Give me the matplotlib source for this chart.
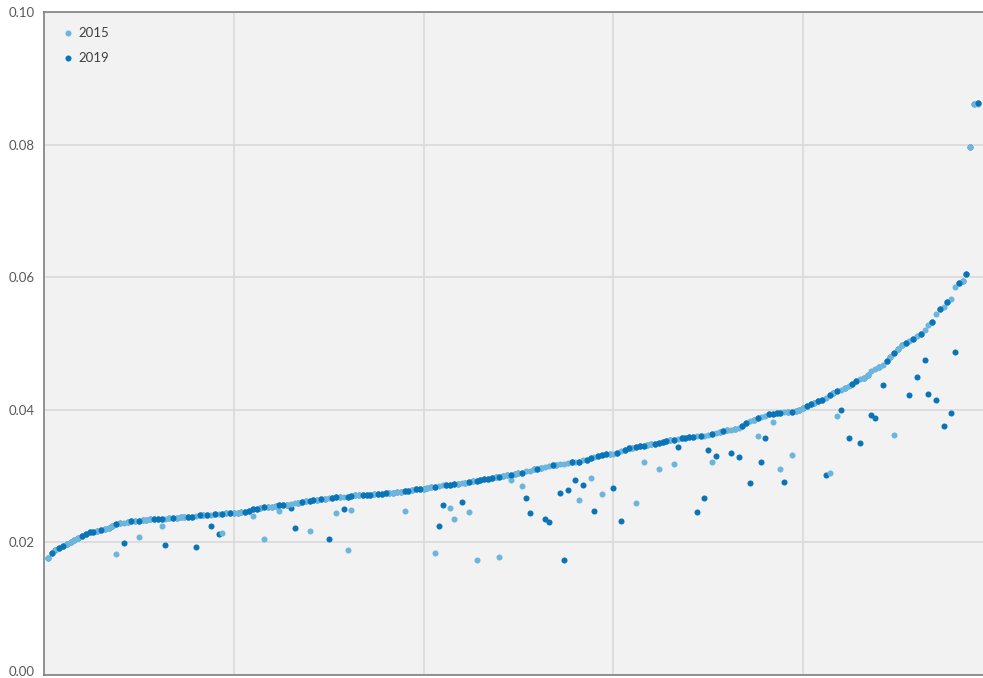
import numpy as np
import matplotlib
matplotlib.use("Agg")
import matplotlib.pyplot as plt
from matplotlib.transforms import ScaledTranslation

# value on the upper sorted curve, one per rank (1..243)
curve = [
    0.0176, 0.0184, 0.0188, 0.0191, 0.0194, 0.0197, 0.0200, 0.0204, 0.0207, 0.0210,
    0.0213, 0.0215, 0.0216, 0.0217, 0.0218, 0.0220, 0.0222, 0.0224, 0.0227, 0.0229,
    0.0230, 0.0231, 0.0232, 0.0232, 0.0233, 0.0234, 0.0234, 0.0235, 0.0235, 0.0235,
    0.0236, 0.0236, 0.0237, 0.0237, 0.0237, 0.0238, 0.0238, 0.0239, 0.0239, 0.0240,
    0.0241, 0.0241, 0.0242, 0.0242, 0.0243, 0.0243, 0.0243, 0.0244, 0.0244, 0.0245,
    0.0245, 0.0246, 0.0246, 0.0248, 0.0250, 0.0251, 0.0252, 0.0253, 0.0254, 0.0254,
    0.0255, 0.0256, 0.0256, 0.0257, 0.0258, 0.0259, 0.0260, 0.0261, 0.0262, 0.0263,
    0.0264, 0.0264, 0.0265, 0.0266, 0.0267, 0.0267, 0.0268, 0.0268, 0.0269, 0.0269,
    0.0270, 0.0271, 0.0271, 0.0272, 0.0272, 0.0272, 0.0273, 0.0273, 0.0273, 0.0274,
    0.0274, 0.0275, 0.0276, 0.0276, 0.0277, 0.0278, 0.0279, 0.0280, 0.0281, 0.0281,
    0.0282, 0.0283, 0.0284, 0.0285, 0.0286, 0.0287, 0.0287, 0.0288, 0.0288, 0.0289,
    0.0290, 0.0291, 0.0292, 0.0293, 0.0294, 0.0295, 0.0296, 0.0297, 0.0298, 0.0299,
    0.0300, 0.0301, 0.0302, 0.0303, 0.0304, 0.0305, 0.0307, 0.0308, 0.0310, 0.0311,
    0.0312, 0.0314, 0.0315, 0.0317, 0.0317, 0.0318, 0.0319, 0.0320, 0.0321, 0.0321,
    0.0322, 0.0324, 0.0325, 0.0327, 0.0329, 0.0331, 0.0332, 0.0333, 0.0334, 0.0334,
    0.0335, 0.0338, 0.0340, 0.0342, 0.0343, 0.0344, 0.0345, 0.0346, 0.0347, 0.0348,
    0.0349, 0.0350, 0.0352, 0.0353, 0.0354, 0.0355, 0.0356, 0.0357, 0.0358, 0.0359,
    0.0359, 0.0360, 0.0360, 0.0361, 0.0362, 0.0364, 0.0365, 0.0366, 0.0368, 0.0369,
    0.0370, 0.0371, 0.0373, 0.0376, 0.0380, 0.0383, 0.0385, 0.0387, 0.0389, 0.0391,
    0.0393, 0.0394, 0.0395, 0.0395, 0.0396, 0.0397, 0.0397, 0.0398, 0.0399, 0.0403,
    0.0406, 0.0409, 0.0411, 0.0413, 0.0415, 0.0418, 0.0422, 0.0425, 0.0428, 0.0430,
    0.0433, 0.0436, 0.0439, 0.0443, 0.0446, 0.0448, 0.0452, 0.0459, 0.0461, 0.0464,
    0.0468, 0.0474, 0.0479, 0.0485, 0.0491, 0.0497, 0.0501, 0.0504, 0.0507, 0.0511,
    0.0514, 0.0520, 0.0528, 0.0533, 0.0545, 0.0552, 0.0555, 0.0563, 0.0567, 0.0585,
    0.0591, 0.0594, 0.0605,
]

# last three ranks
tail_2015 = [0.0796, 0.0861, 0.0861]
tail_2019 = [0.0796, 0.0861, 0.0862]

# points that sit below the curve (rank: value)
dips_2015 = {
    19: 0.0182, 25: 0.0208, 31: 0.0225, 47: 0.0214, 55: 0.0240, 58: 0.0205,
    62: 0.0247, 70: 0.0217, 77: 0.0244, 80: 0.0189, 81: 0.0249, 95: 0.0247,
    103: 0.0184, 107: 0.0252, 108: 0.0235, 112: 0.0246, 114: 0.0174, 120: 0.0178,
    123: 0.0294, 126: 0.0285, 141: 0.0264, 144: 0.0297, 147: 0.0273, 156: 0.0259,
    158: 0.0321, 162: 0.0311, 166: 0.0318, 176: 0.0321, 188: 0.0360, 192: 0.0382,
    194: 0.0311, 197: 0.0332, 207: 0.0305, 209: 0.0391, 224: 0.0362,
}
dips_2019 = {
    21: 0.0199, 32: 0.0196, 40: 0.0193, 44: 0.0225, 46: 0.0213, 65: 0.0252,
    66: 0.0222, 75: 0.0205, 79: 0.0250, 104: 0.0225, 105: 0.0256, 110: 0.0261,
    127: 0.0267, 128: 0.0244, 132: 0.0236, 133: 0.0231, 136: 0.0275, 137: 0.0173,
    138: 0.0279, 140: 0.0294, 142: 0.0287, 145: 0.0247, 150: 0.0282, 152: 0.0232,
    167: 0.0344, 172: 0.0246, 174: 0.0267, 175: 0.0339, 177: 0.0330, 181: 0.0335,
    183: 0.0329, 186: 0.0290, 189: 0.0321, 190: 0.0357, 195: 0.0291, 206: 0.0302,
    210: 0.0400, 212: 0.0357, 215: 0.0350, 218: 0.0392, 219: 0.0388, 221: 0.0437,
    228: 0.0422, 230: 0.0449, 232: 0.0475, 233: 0.0424, 235: 0.0415, 237: 0.0376,
    239: 0.0395, 240: 0.0487,
}

# ranks where the 2019 dot shows on top of the 2015 dot on the curve
dark_on_top = [
    2, 4, 5, 10, 11, 12, 13, 15, 19, 23, 25, 29, 30, 31, 34, 38, 39, 41, 43, 45,
    47, 49, 53, 54, 55, 56, 58, 62, 63, 68, 70, 71, 73, 76, 77, 80, 81, 84, 85,
    86, 88, 89, 90, 95, 96, 98, 99, 103, 106, 107, 108, 112, 114, 115, 116, 117,
    118, 120, 123, 126, 130, 134, 139, 141, 143, 144, 146, 147, 148, 151, 153,
    154, 156, 157, 158, 161, 162, 163, 164, 166, 168, 169, 170, 171, 173, 176,
    179, 184, 185, 188, 191, 192, 193, 194, 197, 201, 202, 204, 205, 207, 209,
    213, 214, 222, 224, 227, 229, 231, 234, 236, 238, 241, 243, 246,
]

y2015 = list(curve) + tail_2015
y2019 = list(curve) + tail_2019
for r, v in dips_2015.items():
    y2015[r - 1] = v
for r, v in dips_2019.items():
    y2019[r - 1] = v
x = np.arange(1, len(y2015) + 1)
top_idx = np.array(dark_on_top) - 1

LIGHT = "#6CB6DD"
DARK = "#0A74B8"

plt.rcParams["font.family"] = ["Lato", "DejaVu Sans"]
fig = plt.figure(figsize=(9.83, 6.78), dpi=100)
ax = fig.add_axes([44 / 983, 3 / 678, 939 / 983, 663 / 678])
ax.set_facecolor("#F2F2F2")

ax.scatter(x, y2019, s=19, color=DARK, linewidths=0, label="2019", zorder=3)
ax.scatter(x, y2015, s=19, color=LIGHT, linewidths=0, label="2015", zorder=4)
ax.scatter(x[top_idx], np.array(y2019)[top_idx], s=19, color=DARK,
           linewidths=0, zorder=5)

ax.set_xlim(0, 247.4)
ax.set_ylim(0, 0.10)
ax.set_xticks([50, 100, 150, 200])
ax.set_yticks([0.00, 0.02, 0.04, 0.06, 0.08, 0.10])
ax.set_yticklabels(["0.00", "0.02", "0.04", "0.06", "0.08", "0.10"])
ax.tick_params(axis="x", length=0, labelbottom=False)
ax.tick_params(axis="y", length=0, pad=7, labelsize=9.5, labelcolor="#595959")
ax.grid(True, color="#D9D9D9", linewidth=1.2, zorder=0)
ax.set_axisbelow(True)
# keep the bottom label inside the picture
lab0 = ax.get_yticklabels()[0]
lab0.set_transform(lab0.get_transform() + ScaledTranslation(0, 3 / 72, fig.dpi_scale_trans))

for side in ["left", "bottom", "top"]:
    ax.spines[side].set_color("#808080")
    ax.spines[side].set_linewidth(1.2)
ax.spines["right"].set_visible(False)

handles, labels = ax.get_legend_handles_labels()
leg = ax.legend(handles[::-1], labels[::-1], loc="upper left",
                bbox_to_anchor=(0.009, 0.992), frameon=False,
                fontsize=9.5, handlelength=1.0, handletextpad=0.3,
                labelspacing=1.0, borderaxespad=0.3)
for t in leg.get_texts():
    t.set_color("#404040")

fig.savefig("out.png", dpi=100)
